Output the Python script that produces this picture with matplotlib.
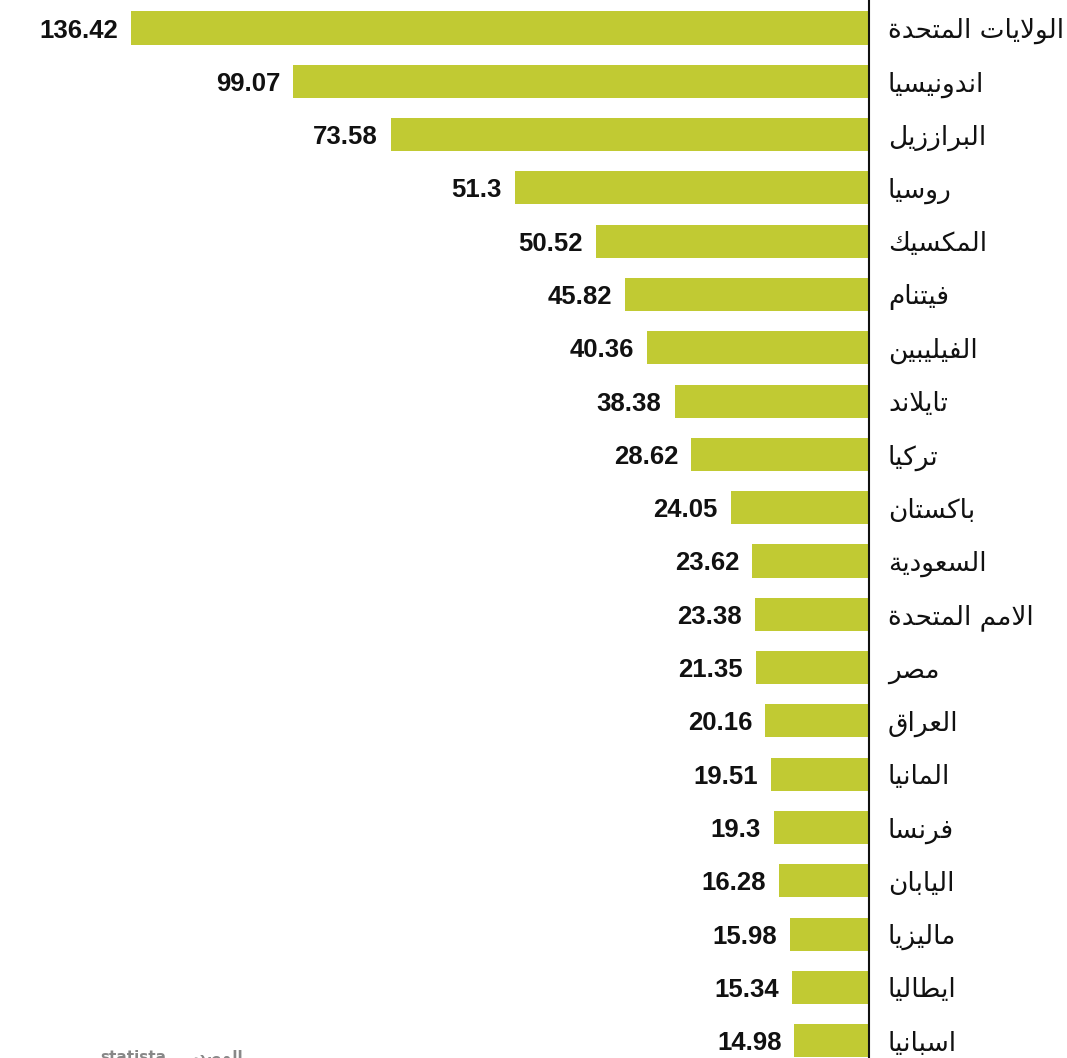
import matplotlib
matplotlib.use("Agg")
import matplotlib.pyplot as plt

# ---------------- data ----------------
countries = ["الولايات المتحدة", "اندونيسيا", "البراززيل", "روسيا", "المكسيك",
             "فيتنام", "الفيليبين", "تايلاند", "تركيا", "باكستان",
             "السعودية", "الامم المتحدة", "مصر", "العراق", "المانيا",
             "فرنسا", "اليابان", "ماليزيا", "ايطاليا", "اسبانيا"]
# printed values
values = [136.42, 99.07, 73.58, 51.3, 50.52, 45.82, 40.36, 38.38, 28.62, 24.05,
          23.62, 23.38, 21.35, 20.16, 19.51, 19.3, 16.28, 15.98, 15.34, 14.98]
value_labels = ["136.42", "99.07", "73.58", "51.3", "50.52", "45.82", "40.36",
                "38.38", "28.62", "24.05", "23.62", "23.38", "21.35", "20.16",
                "19.51", "19.3", "16.28", "15.98", "15.34", "14.98"]
# bar lengths as drawn in the picture (same units)
bar_lengths = [136.42, 106.5, 88.4, 65.5, 50.5, 45.0, 41.0, 35.9, 32.8, 25.5,
               21.5, 21.1, 20.9, 19.1, 18.0, 17.5, 16.5, 14.6, 14.25, 13.7]
source_word = "المصدر"
source_name = "statista"

# ---------------- minimal Arabic shaping ----------------
FORMS = {  # isolated, final, initial, medial
    'ا': (0xFE8D, 0xFE8E, None, None), 'ب': (0xFE8F, 0xFE90, 0xFE91, 0xFE92),
    'ة': (0xFE93, 0xFE94, None, None), 'ت': (0xFE95, 0xFE96, 0xFE97, 0xFE98),
    'ث': (0xFE99, 0xFE9A, 0xFE9B, 0xFE9C), 'ج': (0xFE9D, 0xFE9E, 0xFE9F, 0xFEA0),
    'ح': (0xFEA1, 0xFEA2, 0xFEA3, 0xFEA4), 'خ': (0xFEA5, 0xFEA6, 0xFEA7, 0xFEA8),
    'د': (0xFEA9, 0xFEAA, None, None), 'ذ': (0xFEAB, 0xFEAC, None, None),
    'ر': (0xFEAD, 0xFEAE, None, None), 'ز': (0xFEAF, 0xFEB0, None, None),
    'س': (0xFEB1, 0xFEB2, 0xFEB3, 0xFEB4), 'ش': (0xFEB5, 0xFEB6, 0xFEB7, 0xFEB8),
    'ص': (0xFEB9, 0xFEBA, 0xFEBB, 0xFEBC), 'ض': (0xFEBD, 0xFEBE, 0xFEBF, 0xFEC0),
    'ط': (0xFEC1, 0xFEC2, 0xFEC3, 0xFEC4), 'ظ': (0xFEC5, 0xFEC6, 0xFEC7, 0xFEC8),
    'ع': (0xFEC9, 0xFECA, 0xFECB, 0xFECC), 'غ': (0xFECD, 0xFECE, 0xFECF, 0xFED0),
    'ف': (0xFED1, 0xFED2, 0xFED3, 0xFED4), 'ق': (0xFED5, 0xFED6, 0xFED7, 0xFED8),
    'ك': (0xFED9, 0xFEDA, 0xFEDB, 0xFEDC), 'ل': (0xFEDD, 0xFEDE, 0xFEDF, 0xFEE0),
    'م': (0xFEE1, 0xFEE2, 0xFEE3, 0xFEE4), 'ن': (0xFEE5, 0xFEE6, 0xFEE7, 0xFEE8),
    'ه': (0xFEE9, 0xFEEA, 0xFEEB, 0xFEEC), 'و': (0xFEED, 0xFEEE, None, None),
    'ى': (0xFEEF, 0xFEF0, None, None), 'ي': (0xFEF1, 0xFEF2, 0xFEF3, 0xFEF4),
}


def dual(c):
    return c in FORMS and FORMS[c][2] is not None


def shape(text):
    out = []
    chars = list(text)
    n = len(chars)
    i = 0
    while i < n:
        c = chars[i]
        if c not in FORMS:
            out.append(c)
            i += 1
            continue
        prev = chars[i - 1] if i > 0 else None
        jp = prev is not None and dual(prev)
        if c == 'ل' and i + 1 < n and chars[i + 1] == 'ا':
            out.append(chr(0xFEFC if jp else 0xFEFB))
            i += 2
            continue
        nxt = chars[i + 1] if i + 1 < n else None
        jn = dual(c) and nxt is not None and nxt in FORMS
        iso, fin, ini, med = FORMS[c]
        if jp and jn:
            f = med
        elif jp:
            f = fin
        elif jn:
            f = ini
        else:
            f = iso
        out.append(chr(f))
        i += 1
    return "".join(reversed(out))


# ---------------- figure ----------------
W, H = 1067, 1058
fig = plt.figure(figsize=(W / 100, H / 100), dpi=100)
ax = fig.add_axes([0, 0, 868.5 / W, 1])

bar_color = "#C1CA33"
ypos = list(range(len(countries)))
ax.barh(ypos, bar_lengths, height=0.62, color=bar_color, zorder=2)

px_per_unit = 737 / 136.42
ax.set_xlim(868.5 / px_per_unit, 0)
ax.set_ylim((H - 28) / 53.3, -28 / 53.3)

for y, L, lab in zip(ypos, bar_lengths, value_labels):
    ax.annotate(lab, xy=(L, y), xytext=(-13, 0), textcoords="offset pixels",
                ha="right", va="center_baseline", fontsize=18.5, fontweight="bold",
                family="Liberation Sans", color="#111111")

ax.yaxis.tick_right()
ax.set_yticks(ypos)
ax.set_yticklabels([shape(c) for c in countries], fontsize=19,
                   family="DejaVu Sans", color="#111111")
ax.tick_params(axis="y", length=0, pad=14)
ax.set_xticks([])
for s in ["left", "top", "bottom"]:
    ax.spines[s].set_visible(False)
ax.spines["right"].set_linewidth(1.5)
ax.spines["right"].set_color("#111111")

fig.text(100 / W, (H - 1050) / H, source_name, ha="left", va="top",
         fontsize=11, fontweight="bold", color="#888888", family="DejaVu Sans")
fig.text(190 / W, (H - 1050) / H, shape(source_word), ha="left", va="top",
         fontsize=11, fontweight="bold", color="#888888", family="DejaVu Sans")

fig.savefig("out.png", dpi=100, facecolor="white")
